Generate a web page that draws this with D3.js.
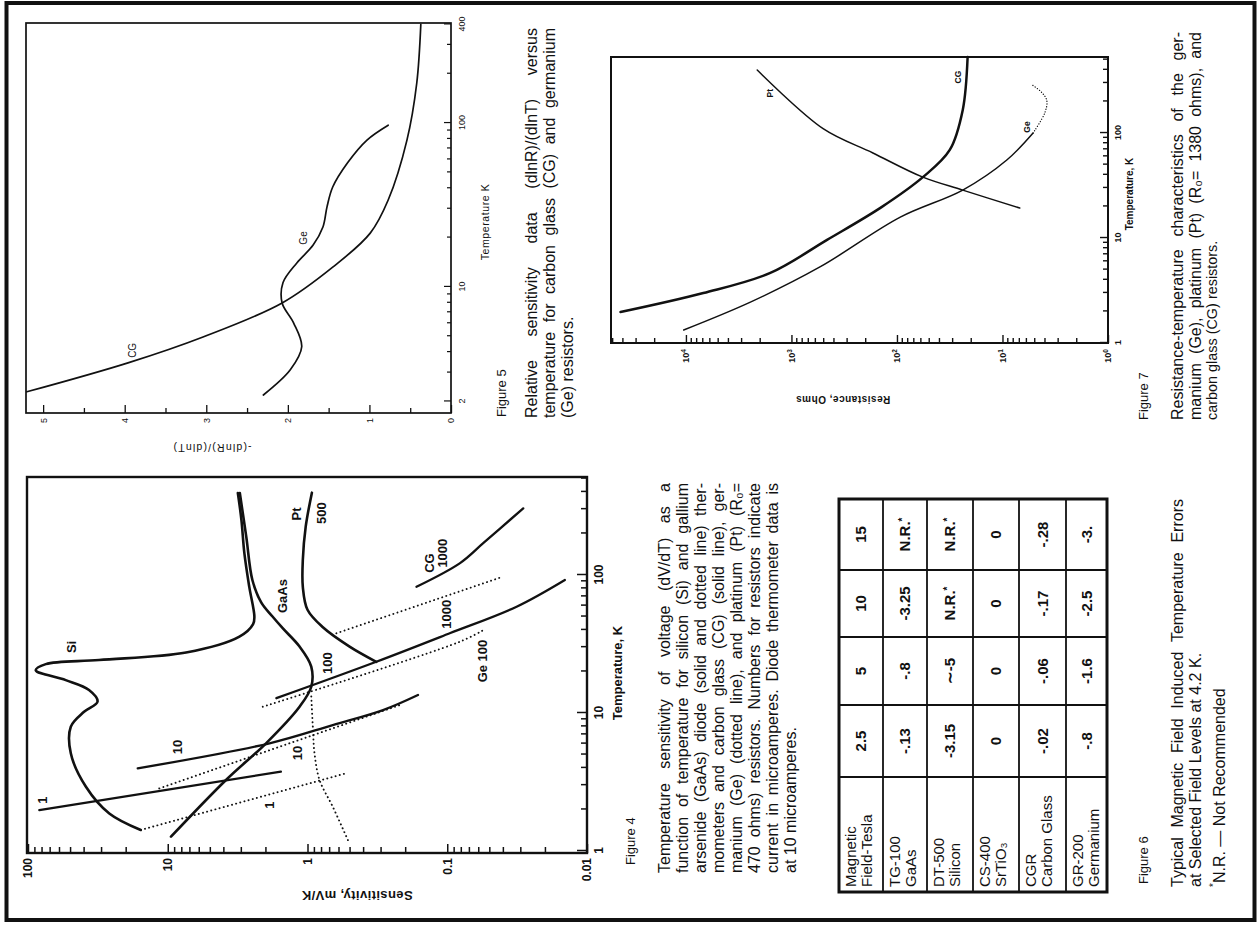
<!DOCTYPE html>
<html>
<head>
<meta charset="utf-8">
<title>Figures 4-7</title>
<script src="https://cdn.jsdelivr.net/npm/d3@7"></script>
<style>
  body { margin: 0; background: #fff; }
  svg { display: block; }
  text { font-family: "Liberation Sans", Arial, Helvetica, sans-serif; fill: #111; }
</style>
</head>
<body>
<svg id="page" width="1259" height="926"></svg>
<script>
/* Catalogue page with figures 4-7. Drawn upright, then the whole page is turned a quarter left */

/* Figure 4: sensitivity (mV/K) vs temperature (K), points are [T, S] */
const fig4Si = [[1.42,15.6],[1.87,26.2],[2.92,38.5],[5.1,49.4],[7.96,49.4],[10.2,39.7],[12.1,31.8],[14.7,36.6],[17.3,53.7],[20.4,88],[22.6,74.6],[24.2,31.0],[27.4,7.4],[35.7,3.07],[44,2.45],[50,2.40],[82,2.61],[144,2.83],[250,2.97],[393,3.15]];
const fig4GaAs = [[1.27,9.48],[3.27,3.83],[6.03,1.98],[11.1,1.14],[15.5,0.94],[21.7,0.94],[30.3,1.14],[41,1.5],[50,1.78],[63,2.14],[92,2.48],[188,2.74],[393,3.05]];
const fig4GaAsDotted = [[1.20,0.514],[2.09,0.659],[3.27,0.82],[5.11,0.891],[7.96,0.916],[13.9,0.942]];
const fig4Pt = [[23.5,0.322],[30.3,0.50],[42,0.78],[56,1.0],[82,1.08],[129,1.08],[224,1.03],[395,0.93]];
// carbon glass resistors (solid), current in microamperes
const fig4CG1 = [[1.98,83],[3.76,1.55]];
const fig4CG10 = [[3.97,16.4],[6.03,1.87],[8.18,0.659],[10.5,0.288],[13.5,0.162]];
const fig4CG100 = [[12.8,1.67],[23.5,0.322],[37.8,0.096],[58.9,0.0319],[92,0.0144]];
const fig4CG1000 = [[82.2,0.166],[122,0.081],[170,0.0553],[304,0.0286]];
// germanium resistors (dotted)
const fig4Ge1 = [[1.42,15.6],[3.66,0.528]];
const fig4Ge10 = [[2.84,11.5],[11.4,0.219]];
const fig4Ge100 = [[11.1,2.09],[32.9,0.081],[39.9,0.055]];
const fig4Ge1000 = [[37.8,0.622],[97.2,0.040]];
const fig4Labels = [["Si",30.1,49.2],["GaAs",70.4,1.51],["Pt",277,1.20],["500",281,0.794],["CG",122,0.133],["1000",144,0.108],
  ["100",23,0.72],["1000",52,0.101],["10",5.67,8.55],["10",5.13,1.18],["1",2.34,79.4],["1",2.15,1.87],["Ge 100",23.8,0.0557]];
const fig4TTicks = [1, 10, 100];
const fig4STicks = [0.01, 0.1, 1, 10, 100];

/* Figure 5: -(dlnR)/(dlnT) vs temperature, [T, value] */
const fig5CG = [[2.29,5.2],[3.44,3.96],[4.95,3.04],[7.98,2.07],[13.2,1.45],[21.3,0.99],[33.9,0.77],[78.7,0.54],[175,0.42],[400,0.37]];
const fig5Ge = [[2.19,2.30],[3.12,1.97],[4.31,1.83],[6.03,1.93],[7.98,2.07],[10.6,2.06],[14.0,1.89],[18.0,1.69],[23.2,1.57],[30.8,1.52],[40.7,1.45],[57,1.27],[78.7,1.03],[97,0.77]];
const fig5Labels = [["CG",4.1,3.91],["Ge",19.9,1.81]];
const fig5TTicks = [2, 10, 100, 400];
const fig5VTicks = [0, 1, 2, 3, 4, 5];

/* Figure 7: resistance (ohms) vs temperature, [T, R] */
const fig7CG = [[1.97,41700],[2.99,6840],[4.65,1585],[9.6,460],[19.7,140],[38,56.8],[69,31.6],[166,23.8],[530,21.4]];
const fig7Ge = [[1.33,10500],[2.45,2450],[5.3,537],[15.8,93],[28.6,23.8],[55.3,9.1],[100,5.13]];
const fig7GeDotted = [[100,5.13],[155,3.98],[204,3.80],[245,4.27],[288,5.25]];
const fig7Pt = [[19.3,6.86],[28.6,23.8],[38,56.8],[64.6,169],[110,501],[398,2110]];
const fig7Labels = [["CG",341,26.5],["Ge",114,5.9],["Pt",240,1590]];
const fig7TTicks = [1, 10, 100];
const fig7RTicks = [1, 10, 100, 1000, 10000];

/* Figure 6 table */
const tableHeader = ["2.5", "5", "10", "15"];
const tableNames = [["Magnetic","Field-Tesla"],["TG-100","GaAs"],["DT-500","Silicon"],["CS-400","SrTiO₃"],["CGR","Carbon Glass"],["GR-200","Germanium"]];
const tableValues = [["-.13","-.8","-3.25","N.R.*"],["-3.15","∼-5","N.R.*","N.R.*"],["0","0","0","0"],["-.02","-.06","-.17","-.28"],["-.8","-1.6","-2.5","-3."]];

/* Captions */
const cap4 = ["Temperature sensitivity of voltage (dV/dT) as a",
  "function of temperature for silicon (Si) and gallium",
  "arsenide (GaAs) diode (solid and dotted line) ther-",
  "mometers and carbon glass (CG) (solid line), ger-",
  "manium (Ge) (dotted line), and platinum (Pt) (R₀=",
  "470 ohms) resistors. Numbers for resistors indicate",
  "current in microamperes. Diode thermometer data is",
  "at 10 microamperes."];
const cap5 = ["Relative sensitivity data (dlnR)/(dlnT) versus",
  "temperature for carbon glass (CG) and germanium",
  "(Ge) resistors."];
const cap6 = ["Typical Magnetic Field Induced Temperature Errors",
  "at Selected Field Levels at 4.2 K."];
const cap7 = ["Resistance-temperature characteristics of the ger-",
  "manium (Ge), platinum (Pt) (R₀= 1380 ohms), and"];

const INK = "#111";
const svg = d3.select("#page");
svg.append("rect").attr("width", 1259).attr("height", 926).attr("fill", "#fff");
// page coordinates: 926 wide, 1259 tall, top of page on the left of the screen
const page = svg.append("g").attr("transform", "translate(0,926) rotate(-90)");

page.append("rect")
  .attr("x", 6).attr("y", 6.5).attr("width", 917).attr("height", 1248)
  .attr("fill", "none").attr("stroke", INK).attr("stroke-width", 4);

/* helpers */
function minorTicks(dom, skip) {
  let out = [];
  for (let e = Math.floor(Math.log10(dom[0])); e <= Math.ceil(Math.log10(dom[1])); e++) {
    for (let m = 1; m <= 9; m++) {
      let v = m * Math.pow(10, e);
      if (v >= dom[0] && v <= dom[1] && skip.indexOf(v) < 0) out.push(v);
    }
  }
  return out;
}

function axis(g, fn, scale, major, minor, majLen, minLen, pad, fmt, size, weight, width) {
  g.append("g").call(fn(scale).tickValues(minor).tickSize(-minLen).tickFormat(""));
  let a = g.append("g").call(fn(scale).tickValues(major).tickSize(-majLen).tickPadding(pad).tickFormat(fmt));
  g.selectAll(".domain").remove();
  g.selectAll("line").attr("stroke", INK).attr("stroke-width", width);
  g.selectAll("text").attr("font-size", size).attr("font-weight", weight);
  return a;
}

function curve(g, x, y, pts, width, dash) {
  let line = d3.line()
    .x(d => x(d[0]))
    .y(d => y(d[1]))
    .curve(d3.curveCatmullRom.alpha(0.5));
  let p = g.append("path").datum(pts)
    .attr("d", line)
    .attr("fill", "none")
    .attr("stroke", INK)
    .attr("stroke-width", width)
    .attr("stroke-linejoin", "round")
    .attr("stroke-linecap", "round");
  if (dash) p.attr("stroke-dasharray", dash);
  return p;
}

function labels(g, x, y, list, size, weight) {
  g.selectAll(null).data(list).enter().append("text")
    .attr("x", d => x(d[1]))
    .attr("y", d => y(d[2]))
    .attr("dy", "0.35em")
    .attr("text-anchor", "middle")
    .attr("font-size", size)
    .attr("font-weight", weight)
    .text(d => d[0]);
}

// justified lines, last one left ragged
function paragraph(g, lines, x0, x1, y0, lh, size, justifyLast) {
  lines.forEach((line, i) => {
    let t = g.append("text").attr("y", y0 + i * lh).attr("font-size", size);
    let words = line.split(" ");
    let spans = words.map(w => t.append("tspan").text(w));
    let widths = spans.map(s => s.node().getComputedTextLength());
    let ragged = (i === lines.length - 1) && !justifyLast;
    let gap = (!ragged && words.length > 1) ? (x1 - x0 - d3.sum(widths)) / (words.length - 1) : size * 0.28;
    let x = x0;
    spans.forEach((s, j) => { s.attr("x", x); x += widths[j] + gap; });
  });
}

function frame(g, x0, x1, y0, y1, w) {
  g.append("rect").attr("x", x0).attr("y", y0).attr("width", x1 - x0).attr("height", y1 - y0)
    .attr("fill", "none").attr("stroke", INK).attr("stroke-width", w);
}

/* ---------- Figure 4 ---------- */
function drawFig4() {
  let g = page.append("g");
  let x = d3.scaleLog().domain([0.967, 513]).range([73, 449]);
  let y = d3.scaleLog().domain([0.01, 100]).range([587, 28]);

  axis(g.append("g").attr("transform", "translate(0,587)"), d3.axisBottom, x,
    fig4TTicks, minorTicks(x.domain(), fig4TTicks), 10, 6, 7.5, d3.format("d"), 12, "bold", 1.5);
  axis(g.append("g").attr("transform", "translate(73,0)"), d3.axisLeft, y,
    fig4STicks, minorTicks(y.domain(), fig4STicks), 9, 6, 5, d => String(d), 12, "bold", 1.5);
  frame(g, 73, 449, 27, 587, 2.4);

  let dots = "0.1 4.2";
  [fig4Si, fig4GaAs, fig4Pt].forEach(d => curve(g, x, y, d, 2.6));
  [fig4CG1, fig4CG10, fig4CG100, fig4CG1000].forEach(d => curve(g, x, y, d, 2.3));
  [fig4Ge1, fig4Ge10, fig4Ge100, fig4Ge1000, fig4GaAsDotted].forEach(d => curve(g, x, y, d, 1.9, dots));
  labels(g, x, y, fig4Labels, 13, "bold");

  g.append("text").attr("x", 253).attr("y", 622).attr("text-anchor", "middle")
    .attr("font-size", 13).attr("font-weight", "bold").text("Temperature, K");
  g.append("text").attr("transform", "translate(35,357) rotate(-90)").attr("text-anchor", "middle")
    .attr("font-size", 13).attr("font-weight", "bold").attr("letter-spacing", 0.4).text("Sensitivity, mV/K");

  g.append("text").attr("x", 61).attr("y", 635).attr("font-size", 13).text("Figure 4");
  paragraph(g, cap4, 53, 443, 670, 18, 16);
}

/* ---------- Figure 5 ---------- */
function drawFig5() {
  let g = page.append("g");
  let x = d3.scaleLog().domain([1.70, 408]).range([513, 903]);
  let y = d3.scaleLinear().domain([0, 5.21]).range([451, 26]);

  axis(g.append("g").attr("transform", "translate(0,451)"), d3.axisBottom, x,
    fig5TTicks, minorTicks(x.domain(), fig5TTicks), 7, 4, 7.5, d3.format("d"), 9, "normal", 1.2);
  axis(g.append("g").attr("transform", "translate(513,0)"), d3.axisLeft, y,
    fig5VTicks, d3.range(0.5, 5, 1), 8, 5, 5, d3.format("d"), 9, "normal", 1.3);
  frame(g, 513, 903, 26, 451, 1.7);

  curve(g, x, y, fig5CG, 1.7);
  curve(g, x, y, fig5Ge, 1.7);
  labels(g, x, y, fig5Labels, 10, "normal");

  g.append("text").attr("x", 704).attr("y", 489).attr("text-anchor", "middle")
    .attr("font-size", 10.5).attr("letter-spacing", 0.6).text("Temperature K");
  g.append("text").attr("transform", "translate(482,212) rotate(-90)").attr("text-anchor", "middle")
    .attr("font-size", 10.5).attr("letter-spacing", 1.2).text("-(dlnR)/(dlnT)");

  g.append("text").attr("x", 509).attr("y", 506).attr("font-size", 13).text("Figure 5");
  paragraph(g, cap5, 508, 898, 537, 18, 16);
}

/* ---------- Figure 6 (table) ---------- */
function drawFig6() {
  let g = page.append("g");
  let colX = [34, 149, 221, 289, 356, 427];
  let rowY = [839, 883, 927, 973, 1019, 1066, 1107];

  colX.slice(1, -1).forEach(c => g.append("line").attr("x1", c).attr("x2", c)
    .attr("y1", rowY[0]).attr("y2", rowY[rowY.length - 1]).attr("stroke", INK).attr("stroke-width", 1.8));
  rowY.slice(1, -1).forEach(r => g.append("line").attr("x1", colX[0]).attr("x2", colX[colX.length - 1])
    .attr("y1", r).attr("y2", r).attr("stroke", INK).attr("stroke-width", 1.8));
  frame(g, colX[0], colX[colX.length - 1], rowY[0], rowY[rowY.length - 1], 3);

  tableNames.forEach((nm, i) => {
    nm.forEach((s, k) => {
      g.append("text").attr("x", 39).attr("y", rowY[i] + 17 + 16 * k).attr("font-size", 15).text(s);
    });
  });
  let rows = [tableHeader].concat(tableValues);
  rows.forEach((row, i) => {
    row.forEach((v, j) => {
      let t = g.append("text")
        .attr("x", (colX[j + 1] + colX[j + 2]) / 2)
        .attr("y", (rowY[i] + rowY[i + 1]) / 2)
        .attr("dy", "0.36em")
        .attr("text-anchor", "middle")
        .attr("font-size", 15)
        .attr("font-weight", "bold");
      if (v.endsWith("*")) {
        t.append("tspan").text(v.slice(0, -1));
        t.append("tspan").attr("dy", "-0.45em").attr("font-size", 10).text("*");
      } else {
        t.text(v);
      }
    });
  });

  g.append("text").attr("x", 42).attr("y", 1148).attr("font-size", 13).text("Figure 6");
  paragraph(g, cap6, 39, 427, 1183, 18, 16);
  let fn = g.append("text").attr("x", 39).attr("y", 1222).attr("font-size", 16);
  fn.append("tspan").attr("font-size", 10).attr("dy", "-0.5em").text("*");
  fn.append("tspan").attr("dy", "0.5em").attr("font-size", 16).text("N.R. — Not Recommended");
}

/* ---------- Figure 7 ---------- */
function drawFig7() {
  let g = page.append("g");
  let x = d3.scaleLog().domain([1, 530]).range([583, 869]);
  let y = d3.scaleLog().domain([1, 51300]).range([1108, 611]);

  axis(g.append("g").attr("transform", "translate(0,1108)"), d3.axisBottom, x,
    fig7TTicks, minorTicks(x.domain(), fig7TTicks), 8, 5, 7, d3.format("d"), 9, "bold", 1.4);
  let ra = axis(g.append("g").attr("transform", "translate(583,0)"), d3.axisLeft, y,
    fig7RTicks, minorTicks(y.domain(), fig7RTicks), 8, 5, 6, d3.format("d"), 9, "bold", 1.4);
  ra.selectAll(".tick text").each(function(d) {
    let t = d3.select(this);
    t.text("10");
    t.append("tspan").attr("dy", "-0.5em").attr("font-size", 6.5).text(Math.round(Math.log10(d)));
  });
  frame(g, 583, 869, 611, 1108, 2);

  curve(g, x, y, fig7CG, 2.5);
  curve(g, x, y, fig7Ge, 1.5);
  curve(g, x, y, fig7Pt, 1.5);
  curve(g, x, y, fig7GeDotted, 1.3, "0.1 2.6");
  labels(g, x, y, fig7Labels, 8.5, "bold");

  g.append("text").attr("x", 732).attr("y", 1133).attr("text-anchor", "middle")
    .attr("font-size", 10).attr("font-weight", "bold").text("Temperature, K");
  g.append("text").attr("transform", "translate(530,843) rotate(-90)").attr("text-anchor", "middle")
    .attr("font-size", 10).attr("font-weight", "bold").attr("letter-spacing", 0.5).text("Resistance, Ohms");

  g.append("text").attr("x", 506).attr("y", 1148).attr("font-size", 13).text("Figure 7");
  paragraph(g, cap7, 506, 894, 1183, 18, 16, true);
  paragraph(g, ["carbon glass (CG) resistors."], 506, 894, 1217, 18, 14.4);
}

drawFig4();
drawFig5();
drawFig6();
drawFig7();
</script>
</body>
</html>
